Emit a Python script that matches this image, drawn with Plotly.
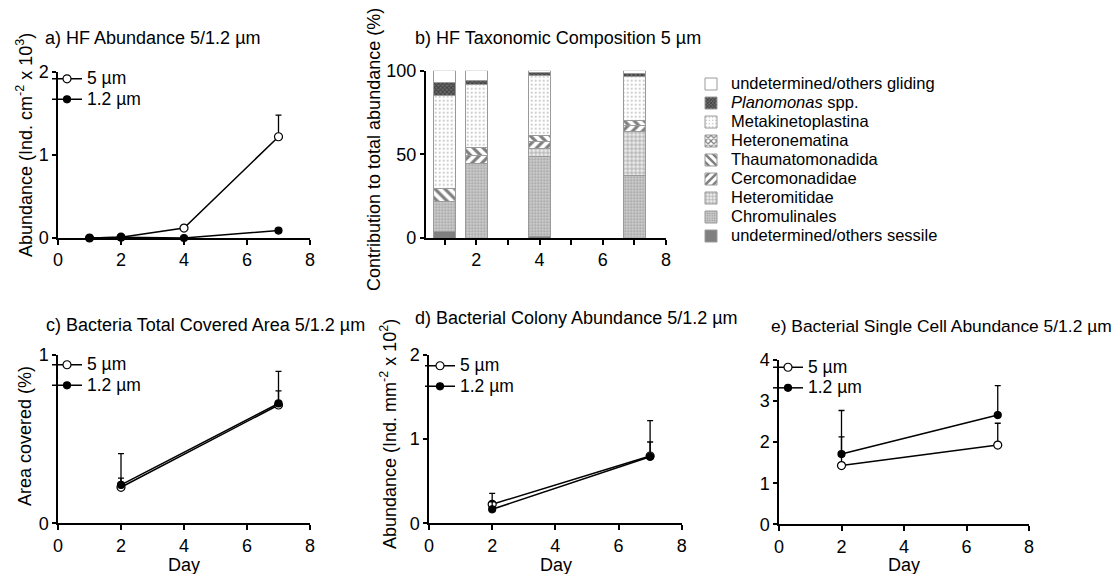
import plotly.graph_objects as go

W, H = 1120, 574
FONT = "Liberation Sans, Arial, sans-serif"
NAN = float("nan")

# ---------- data ----------
# a) HF abundance (Ind. cm^-2 x 10^3)
a_days = [1, 2, 4, 7]
a_5um = [0.0, 0.01, 0.12, 1.22]
a_5um_sd = [NAN, NAN, NAN, 0.26]
a_12um = [0.0, 0.01, 0.0, 0.09]
a_12um_sd = [NAN, NAN, NAN, NAN]

# b) HF taxonomic composition 5 um (%), stacked bottom -> top
b_days = [1, 2, 4, 7]
taxa = ["undetermined/others sessile", "Chromulinales", "Heteromitidae",
        "Cercomonadidae", "Thaumatomonadida", "Heteronematina",
        "Metakinetoplastina", "<i>Planomonas</i> spp.",
        "undetermined/others gliding"]
b_sessile = [3.8, 0.0, 0.8, 0.0]
b_chromulinales = [18.1, 44.3, 47.8, 37.1]
b_heteromitidae = [0.0, 0.0, 5.0, 26.4]
b_cercomonadidae = [0.0, 5.0, 3.9, 3.5]
b_thaumatomonadida = [7.9, 5.0, 4.0, 3.5]
b_heteronematina = [0.0, 0.0, 0.0, 0.0]
b_metakinetoplastina = [55.3, 37.7, 35.9, 25.9]
b_planomonas = [7.9, 2.4, 1.6, 2.0]
b_gliding = [7.0, 5.6, 1.0, 1.6]

# c) Bacteria total covered area (%)
c_days = [2, 7]
c_5um = [0.214, 0.703]
c_5um_sd = [0.20, 0.20]
c_12um = [0.228, 0.712]
c_12um_sd = [0.04, 0.075]

# d) Bacterial colony abundance (Ind. mm^-2 x 10^2)
d_days = [2, 7]
d_5um = [0.226, 0.80]
d_5um_sd = [0.13, 0.42]
d_12um = [0.166, 0.79]
d_12um_sd = [0.09, 0.176]

# e) Bacterial single cell abundance
e_days = [2, 7]
e_5um = [1.43, 1.93]
e_5um_sd = [0.70, 0.53]
e_12um = [1.71, 2.66]
e_12um_sd = [1.06, 0.715]

series_names = ["5 µm", "1.2 µm"]


def px_x(p):
    return p / W


def px_y(p):
    return 1 - p / H


def big(s, size):
    return "<span style='font-size:%spx'>%s</span>" % (size, s)


fig = go.Figure()

# ---------- axes ----------
axis_common = dict(showline=True, linecolor="black", linewidth=1.5, ticks="outside",
                   ticklen=5, tickwidth=1.5, tickcolor="black", showgrid=False,
                   zeroline=False, tickfont=dict(family=FONT, size=18, color="black"),
                   fixedrange=True)

panels = {
    # name: (xdom px, ydom px, xrange, yrange, yticks)
    "a": ((58, 310), (238, 72), [0, 8], [0, 2], [0, 1, 2]),
    "b": ((425.7, 666), (238, 70.7), [0.4, 8], [0, 100], [0, 50, 100]),
    "c": ((58, 310), (523.3, 355), [0, 8], [0, 1], [0, 1]),
    "d": ((429, 681.7), (523.3, 355), [0, 8], [0, 2], [0, 1, 2]),
    "e": ((779, 1029), (524.3, 360), [0, 8], [0, 4], [0, 1, 2, 3, 4]),
}
axis_ids = {"a": "", "b": "2", "c": "3", "d": "4", "e": "5"}

layout = {}
for k, (xd, yd, xr, yr, yt) in panels.items():
    i = axis_ids[k]
    xa = dict(axis_common, domain=[px_x(xd[0]), px_x(xd[1])], range=xr,
              anchor="y" + i, tickvals=[0, 2, 4, 6, 8])
    if k == "b":
        xa.update(tickvals=[2, 4, 6, 8],
                  minor=dict(tickvals=[1, 3, 5, 7], ticks="outside", ticklen=5,
                             tickwidth=1.5, tickcolor="black", showgrid=False))
    ya = dict(axis_common, domain=[px_y(yd[0]), px_y(yd[1])], range=yr,
              tickvals=yt, anchor="x" + i, ticklen=4)
    layout["xaxis" + i] = xa
    layout["yaxis" + i] = ya


# ---------- line panels ----------
def add_pair(k, days, v5, sd5, v12, sd12, legend):
    i = axis_ids[k]
    for name, vals, sd, filled in [(series_names[0], v5, sd5, False),
                                   (series_names[1], v12, sd12, True)]:
        fig.add_trace(go.Scatter(
            x=days, y=vals, name=big(name, 17.5), mode="lines+markers",
            xaxis="x" + i, yaxis="y" + i, legend=legend, cliponaxis=False,
            line=dict(color="black", width=1.5),
            marker=dict(symbol="circle", size=8 if not filled else 7,
                        color="black" if filled else "white",
                        line=dict(color="black", width=1.2)),
            error_y=dict(type="data", symmetric=False, array=sd,
                         arrayminus=[0 for _ in sd], color="black",
                         thickness=1.3, width=3),
            hoverinfo="skip",
        ))


add_pair("a", a_days, a_5um, a_5um_sd, a_12um, a_12um_sd, "legend")
add_pair("c", c_days, c_5um, c_5um_sd, c_12um, c_12um_sd, "legend3")
add_pair("d", d_days, d_5um, d_5um_sd, d_12um, d_12um_sd, "legend4")
add_pair("e", e_days, e_5um, e_5um_sd, e_12um, e_12um_sd, "legend5")

# ---------- stacked bars ----------
b_values = [b_sessile, b_chromulinales, b_heteromitidae, b_cercomonadidae,
            b_thaumatomonadida, b_heteronematina, b_metakinetoplastina,
            b_planomonas, b_gliding]
b_styles = [
    dict(color="#7f7f7f"),
    dict(color="#c8c8c8", pattern=dict(shape=".", fgcolor="#6f6f6f", bgcolor="#cdcdcd",
                                       size=3, solidity=0.4)),
    dict(color="white", pattern=dict(shape="+", fgcolor="#333333", bgcolor="#ededed",
                                     size=4, solidity=0.3)),
    dict(color="white", pattern=dict(shape="/", fgcolor="black", bgcolor="white",
                                     size=7, solidity=0.45)),
    dict(color="white", pattern=dict(shape="\\", fgcolor="black", bgcolor="white",
                                     size=7, solidity=0.45)),
    dict(color="white", pattern=dict(shape="x", fgcolor="black", bgcolor="white",
                                     size=5, solidity=0.5)),
    dict(color="white", pattern=dict(shape=".", fgcolor="#8a8a8a", bgcolor="white",
                                     size=4, solidity=0.22)),
    dict(color="#444", pattern=dict(shape="x", fgcolor="#111", bgcolor="#6a6a6a",
                                    size=3, solidity=0.5)),
    dict(color="white"),
]
for name, vals, st in zip(taxa, b_values, b_styles):
    fig.add_trace(go.Bar(
        x=b_days, y=vals, name=big(name, 16.5), width=0.7, xaxis="x2", yaxis="y2",
        legend="legend2", marker=dict(line=dict(color="#9a9a9a", width=1), **st),
        hoverinfo="skip",
    ))

# ---------- legends ----------
leg_line = dict(bgcolor="rgba(0,0,0,0)", font=dict(family=FONT, size=13.5, color="black"),
                xanchor="left", yanchor="top", itemwidth=30, tracegroupgap=0,
                itemclick=False, itemdoubleclick=False)
layout["legend"] = dict(leg_line, x=px_x(47), y=px_y(63.5))
layout["legend3"] = dict(leg_line, x=px_x(47), y=px_y(349.5))
layout["legend4"] = dict(leg_line, x=px_x(420), y=px_y(350.5))
layout["legend5"] = dict(leg_line, x=px_x(768), y=px_y(352))
layout["legend2"] = dict(bgcolor="rgba(0,0,0,0)", font=dict(family=FONT, size=12, color="black"),
                         xanchor="left", yanchor="top", x=px_x(691), y=px_y(69.5),
                         traceorder="reversed", itemwidth=30, tracegroupgap=0,
                         itemclick=False, itemdoubleclick=False)

# ---------- text ----------
ann = []


def text(x, y, s, size=18, angle=0, xanchor="left"):
    ann.append(dict(x=px_x(x), y=px_y(y), xref="paper", yref="paper", text=s,
                    showarrow=False, xanchor=xanchor, yanchor="middle",
                    textangle=angle, font=dict(family=FONT, size=size, color="black")))


text(43, 38, "a) HF Abundance 5/1.2 µm")
text(413, 38, "b) HF Taxonomic Composition 5 µm")
text(44, 325, "c) Bacteria Total Covered Area 5/1.2 µm")
text(413, 318, "d) Bacterial Colony Abundance 5/1.2 µm")
text(769, 326, "e) Bacterial Single Cell Abundance 5/1.2 µm", 17.4)

text(24, 145, "Abundance (Ind. cm<sup>-2</sup> x 10<sup>3</sup>)", 18, -90, "center")
text(374, 150, "Contribution to total abundance (%)", 18, -90, "center")
text(25, 436, "Area covered (%)", 18, -90, "center")
text(388, 434, "Abundance (Ind. mm<sup>-2</sup> x 10<sup>2</sup>)", 18, -90, "center")

text(184, 565, "Day", 18, 0, "center")
text(556, 565, "Day", 18, 0, "center")
text(904, 565, "Day", 18, 0, "center")

fig.update_layout(
    width=W, height=H, margin=dict(l=0, r=0, t=0, b=0, autoexpand=False),
    paper_bgcolor="white", plot_bgcolor="white",
    barmode="stack", bargap=0.3, showlegend=True,
    annotations=ann, **layout,
)

fig.write_html("out.html", config={"displayModeBar": False},
               post_script="document.body.style.margin='0';document.body.style.padding='0';")
